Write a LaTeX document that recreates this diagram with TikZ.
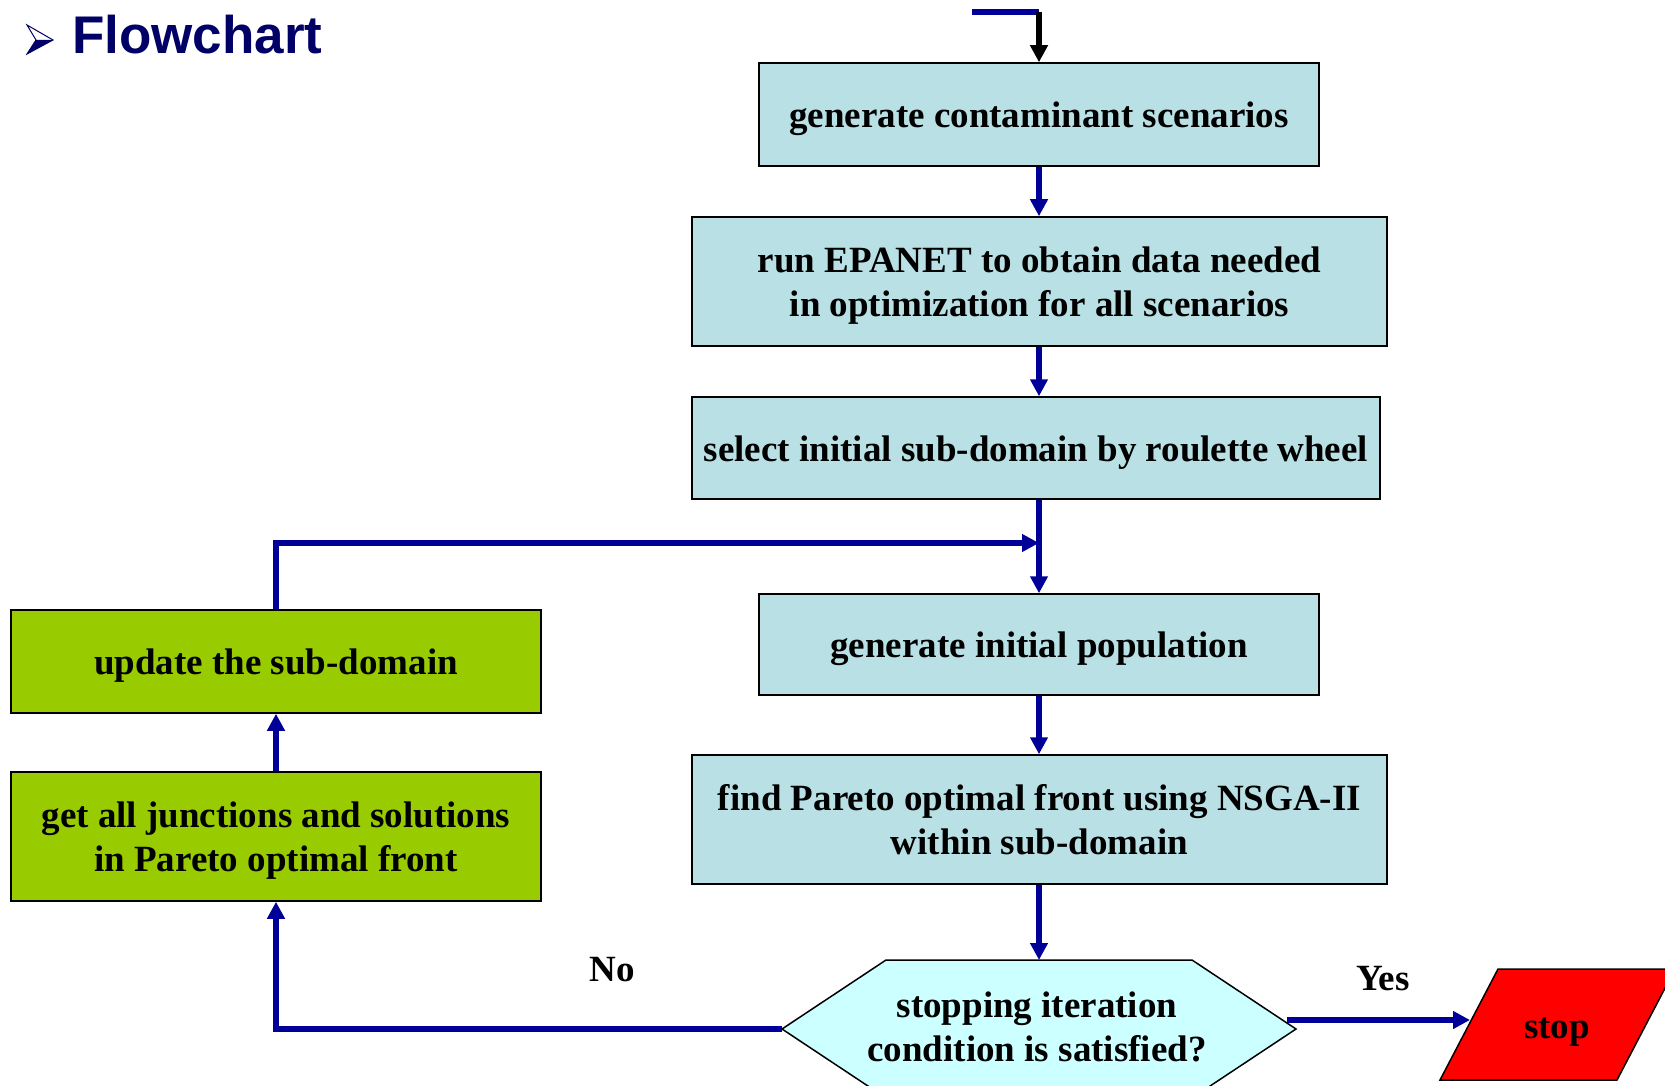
\documentclass[tikz,border=0pt]{standalone}
\usepackage{fontspec}
\setmainfont{Liberation Serif}
\newfontfamily\titlefont{Liberation Sans}
\usetikzlibrary{arrows.meta}
\definecolor{arrowblue}{RGB}{0,0,153}
\definecolor{titleblue}{RGB}{0,0,102}
\definecolor{boxblue}{RGB}{185,224,228}
\definecolor{boxgreen}{RGB}{153,204,0}
\definecolor{hexcyan}{RGB}{204,255,255}
\newcommand\mytopstrut{\rule{0pt}{36pt}}
\newcommand\mybotstrut{\rule[-10pt]{0pt}{10pt}}
\tikzset{
  flow/.style={line width=5.5pt, draw=arrowblue, -{Triangle[length=17pt,width=17pt]}},
  plainflow/.style={line width=5.5pt, draw=arrowblue},
  txt/.style={font=\fontsize{37}{44.5}\selectfont\bfseries, align=center, inner sep=0pt},
  bluebox/.style={txt, draw=black, line width=1.5pt, fill=boxblue},
  greenbox/.style={txt, draw=black, line width=1.5pt, fill=boxgreen},
}
\begin{document}
\begin{tikzpicture}[x=1pt,y=-1pt]
\clip (0,0) rectangle (1665,1086);
\fill[white] (0,0) rectangle (1665,1086);

% title
\draw[titleblue, line width=1pt, line join=miter] (27,25) -- (53,40) -- (27,54) -- (36,40) -- cycle;
\fill[titleblue] (36,40) -- (53,40) -- (27,54) -- cycle;
\node[anchor=base west, inner sep=0pt, text=titleblue, font=\titlefont\bfseries\fontsize{53}{60}\selectfont] (title) at (72,54) {Flowchart};

% main column boxes
\node[bluebox, minimum width=560pt, minimum height=103pt] (b1) at (1039,114.5) {\mytopstrut generate contaminant scenarios\mybotstrut};
\node[bluebox, minimum width=695pt, minimum height=129pt] (b2) at (1039.5,281.5) {\mytopstrut run EPANET to obtain data needed\\in optimization for all scenarios\mybotstrut};
\node[bluebox, minimum width=688pt, minimum height=102pt] (b3) at (1036,448) {\mytopstrut select initial sub-domain by roulette wheel\mybotstrut};
\node[bluebox, minimum width=560pt, minimum height=101pt] (b4) at (1039,644.5) {\mytopstrut generate initial population\mybotstrut};
\node[bluebox, minimum width=695pt, minimum height=129pt] (b5) at (1039.5,819.5) {\mytopstrut find Pareto optimal front using NSGA-II\\within sub-domain\mybotstrut};

% green boxes
\node[greenbox, minimum width=530pt, minimum height=103pt] (up) at (276,661.5) {\mytopstrut update the sub-domain\mybotstrut};
\node[greenbox, minimum width=530pt, minimum height=129pt] (get) at (276,836.5) {\mytopstrut get all junctions and solutions\\in Pareto optimal front\mybotstrut};

% hexagon
\coordinate (hl) at (782,1029);
\coordinate (htl) at (886,960);
\coordinate (htr) at (1192,960);
\coordinate (hr) at (1296,1029);
\coordinate (hbr) at (1192,1098);
\coordinate (hbl) at (886,1098);
\draw[fill=hexcyan, line width=1.5pt, line join=miter] (hl) -- (htl) -- (htr) -- (hr) -- (hbr) -- (hbl) -- cycle;
\node[txt] (hex) at (1037,1027) {stopping iteration\\condition is satisfied?};
\coordinate (htop) at (1039,960);

% stop
\draw[fill=red, line width=1.5pt, line join=miter] (1440,1080) -- (1498,969) -- (1675,969) -- (1617,1080) -- cycle;
\node[txt] (stop) at (1557,1032) {stop};
\coordinate (stopL) at (1470,1020);
\coordinate (ys) at (1287,1020);

% labels
\node[txt, anchor=base] (no) at (612,981) {No};
\node[txt, anchor=base] (yes) at (1383,990) {Yes};

% connectors
\coordinate (start) at (972,12);
\coordinate (bend) at (1039,12);
\draw[plainflow] (start) -- (bend);
\draw[line width=5.5pt, draw=black, -{Triangle[length=17pt,width=17pt]}] (bend) -- (b1.north);
\draw[flow] (b1.south) -- (b1.south |- b2.north);
\draw[flow] (b1.south |- b2.south) -- (b1.south |- b3.north);
\draw[flow] (b4.north |- b3.south) -- (b4.north);
\coordinate (j) at (1039,543);
\draw[flow] (up.north) |- (j);
\draw[flow] (get.north) -- (up.south);
\draw[flow] (b4.south) -- (b4.south |- b5.north);
\draw[flow] (b1.south |- b5.south) -- (htop);
\draw[flow] (hl) -| (get.south);
\draw[flow] (ys) -- (stopL);
\end{tikzpicture}
\end{document}
